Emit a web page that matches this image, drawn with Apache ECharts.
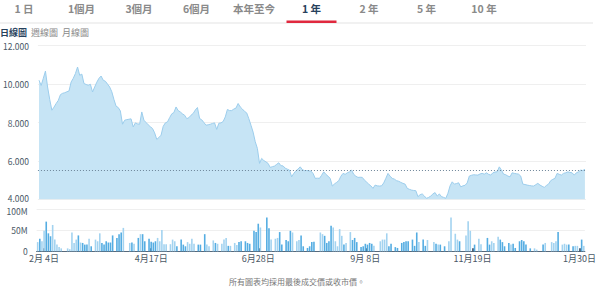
<!DOCTYPE html>
<html><head><meta charset="utf-8">
<script src="https://cdn.jsdelivr.net/npm/echarts@6/dist/echarts.min.js"></script>
<style>html,body{margin:0;padding:0;background:#fff}#c{width:599px;height:291px}</style>
</head><body><div id="c"></div>
<script>
// ---- data ----
const price = [
10.20,9.93,10.30,10.68,9.85,9.20,8.64,8.80,8.99,9.15,
9.45,9.52,9.55,9.60,9.64,10.11,10.30,10.55,10.89,10.46,
10.52,10.03,9.98,9.94,9.99,9.59,9.85,10.10,10.30,10.42,
10.20,10.15,10.00,9.85,9.60,9.20,8.85,8.78,8.60,7.91,
8.12,8.15,8.17,8.19,7.77,7.98,7.93,7.91,8.55,8.12,
8.00,7.88,7.78,7.69,7.46,7.12,7.22,7.34,7.80,7.98,
8.03,8.25,8.45,8.52,8.81,8.62,8.55,8.45,8.38,8.20,
8.25,8.38,8.47,8.65,8.78,8.21,8.14,8.00,7.86,7.88,
7.91,7.95,7.98,7.64,7.96,7.98,8.05,8.29,8.68,8.62,
8.62,8.70,8.75,8.99,8.81,8.70,8.58,8.50,8.20,7.86,
7.50,7.00,6.65,5.87,6.13,6.02,5.95,5.87,5.66,5.70,
5.73,5.82,5.90,5.75,5.74,5.62,5.57,5.52,5.17,5.35,
5.48,5.58,5.69,5.55,5.49,5.50,5.48,5.47,5.35,5.09,
5.10,5.09,5.25,5.43,5.30,5.20,5.09,4.69,4.80,4.88,
4.97,5.20,5.35,5.30,5.38,5.43,5.52,5.30,5.20,5.14,
5.15,5.14,5.00,4.90,4.79,4.70,4.57,4.74,4.70,4.69,
4.70,4.85,5.09,5.35,5.20,5.09,5.05,4.97,4.94,4.88,
4.83,4.79,4.57,4.52,4.48,4.46,4.45,4.14,4.24,4.28,
4.17,4.05,4.10,4.17,4.28,4.35,4.17,4.28,4.14,4.10,
4.05,4.31,4.70,4.91,4.79,4.82,4.86,4.65,4.70,4.73,
4.85,5.21,5.25,5.28,5.27,5.26,5.32,5.35,5.31,5.38,
5.30,5.26,5.38,5.42,5.43,5.69,5.52,5.31,5.28,5.21,
5.17,5.38,5.35,5.33,5.31,5.21,4.79,4.77,4.74,4.72,
4.70,4.69,4.76,4.83,4.74,4.68,4.62,4.72,4.79,4.97,
5.04,5.09,5.35,5.30,5.26,5.35,5.38,5.43,5.40,5.38,
5.26,5.38,5.43,5.52,5.50,5.56
];
const volume = [ // millions
22,30,24,49,71,43,36,63,28,16,
10,7,0,0,7,5,45,20,28,38,
21,20,16,16,30,12,0,28,24,43,
20,16,24,21,21,38,0,32,41,45,
56,0,0,20,21,18,0,32,41,41,
24,0,30,23,21,24,32,24,51,17,
17,0,17,28,24,12,0,28,16,12,
22,18,30,18,0,16,16,0,41,16,
12,0,26,20,18,0,18,28,32,13,
13,0,20,15,22,24,0,24,20,18,
0,49,46,66,57,0,0,81,55,28,
0,30,32,46,16,0,27,24,49,45,
0,24,27,38,12,0,8,12,22,23,
0,0,45,41,37,20,24,61,57,24,
12,53,37,16,20,0,46,27,32,22,
0,10,12,18,16,20,18,13,0,0,
24,28,28,43,12,18,0,10,8,0,
20,22,24,24,0,28,13,45,22,0,
28,13,27,0,0,22,18,16,16,0,
12,0,24,81,0,42,28,24,0,0,
38,72,49,0,16,0,30,17,0,0,
32,16,24,20,0,35,28,22,12,0,
20,16,18,8,0,24,27,24,16,0,
7,0,7,4,0,0,16,20,0,0,
22,20,24,46,0,16,18,16,16,0,
12,13,13,0,28,13
];
const prevClose = 5.52;
const tickIndex = [3, 53, 103, 153, 203, 253];
const tickLabels = ['2月 4日', '4月17日', '6月28日', '9月 8日', '11月19日', '1月30日'];
const priceTicks = [4, 12, 2];      // min, max, interval
const volumeTicks = [0, 100, 50];   // min, max, interval (M)
const tabs = ['1 日', '1個月', '3個月', '6個月', '本年至今', '1 年', '2 年', '5 年', '10 年'];
const activeTab = '1 年';
const subTabs = ['日線圖', '週線圖', '月線圖'];
const footnote = '所有圖表均採用最後成交價或收市價。';

// ---- chart ----
const FONT = '"Noto Sans CJK TC", "Noto Sans", sans-serif';
const cats = price.map((_, i) => String(i));
const labelAt = {};
tickIndex.forEach((k, j) => labelAt[k] = tickLabels[j]);
const isTick = (i) => labelAt[i] !== undefined;

const graphics = [];
graphics.push({type:'rect', shape:{x:0, y:22.5, width:593, height:1}, style:{fill:'#e3e3e3'}, silent:true});
tabs.forEach((t, j) => {
  const cx = 24 + j * 57.5;
  const act = t === activeTab;
  graphics.push({type:'text', x:cx, y:8, style:{text:t, fill: act ? '#27415c' : '#8a8a8a', font:`bold 10.5px ${FONT}`, textAlign:'center', textVerticalAlign:'middle'}});
  if (act) graphics.push({type:'rect', shape:{x:cx-25, y:20.5, width:50, height:2.5}, style:{fill:'#e0283e'}});
});
const subX = [0, 31, 62];
subTabs.forEach((t, j) => {
  graphics.push({type:'text', x:subX[j], y:32, style:{text:t, fill: j===0 ? '#27415c' : '#8a8a8a', font:`${j===0?'bold ':''}9px ${FONT}`, textAlign:'left', textVerticalAlign:'middle'}});
});
graphics.push({type:'text', x:297, y:281, style:{text:footnote, fill:'#777', font:`8px ${FONT}`, textAlign:'center', textVerticalAlign:'middle'}});

const axisTxt = {color:'#4a5866', fontSize:8.5, lineHeight:8.5, fontFamily:FONT};
const chart = echarts.init(document.getElementById('c'), null, {renderer:'svg'});
chart.setOption({
  animation:false,
  backgroundColor:'#fff',
  graphic: graphics,
  grid:[
    {left:36.6, right:13, top:45.7, bottom:91.7},
    {left:36.6, right:13, top:209.5, bottom:39.7}
  ],
  xAxis:[
    {type:'category', gridIndex:0, data:cats, boundaryGap:true,
     axisLine:{show:false}, axisTick:{show:false}, axisLabel:{show:false}, splitLine:{show:false}},
    {type:'category', gridIndex:1, data:cats, boundaryGap:true,
     axisLine:{show:true, lineStyle:{color:'#56697b', width:1}},
     axisTick:{show:true, inside:true, length:3, alignWithLabel:true, interval:(i)=>isTick(i), lineStyle:{color:'#1f3550', width:1.5}},
     axisLabel:{show:true, interval:(i)=>isTick(i), formatter:(v,i)=>labelAt[i]||'', color:'#4a5866', fontSize:9, fontFamily:FONT, margin:3},
     splitLine:{show:false}}
  ],
  yAxis:[
    {type:'value', gridIndex:0, min:priceTicks[0], max:priceTicks[1], interval:priceTicks[2],
     axisLine:{show:false}, axisTick:{show:false},
     axisLabel:Object.assign({margin:9,
       formatter:(v)=> v===priceTicks[0] ? '{lo|'+v.toFixed(3)+'}' : v.toFixed(3),
       rich:{lo:Object.assign({padding:[0,0,3,0]}, axisTxt)}}, axisTxt),
     splitLine:{lineStyle:{color:'#efefef', width:1}}},
    {type:'value', gridIndex:1, min:volumeTicks[0], max:volumeTicks[1], interval:volumeTicks[2],
     axisLine:{show:false}, axisTick:{show:false},
     axisLabel:Object.assign({margin:9,
       formatter:(v)=> v===0 ? '0' : (v===volumeTicks[1] ? '{hi|'+v+'M}' : v+'M'),
       rich:{hi:Object.assign({padding:[3,0,0,0]}, axisTxt)}}, axisTxt),
     splitLine:{lineStyle:{color:'#efefef', width:1}}}
  ],
  series:[
    {type:'line', xAxisIndex:0, yAxisIndex:0, data:price, symbol:'none', smooth:false,
     lineStyle:{color:'#9ccdec', width:1},
     areaStyle:{color:'#c6e4f5', opacity:1, origin:'start'},
     markLine:{silent:true, symbol:['none','none'], label:{show:false},
       lineStyle:{type:[1,2], color:'#6d8599', width:1},
       data:[{yAxis:prevClose}]}},
    {type:'bar', xAxisIndex:1, yAxisIndex:1, data:volume, barWidth:1.6,
     itemStyle:{color:(p)=>{const i=p.dataIndex; return (i>0 && price[i]<price[i-1]) ? '#55ade2' : '#a3d3f0';}}}
  ]
});
</script>
</body></html>
